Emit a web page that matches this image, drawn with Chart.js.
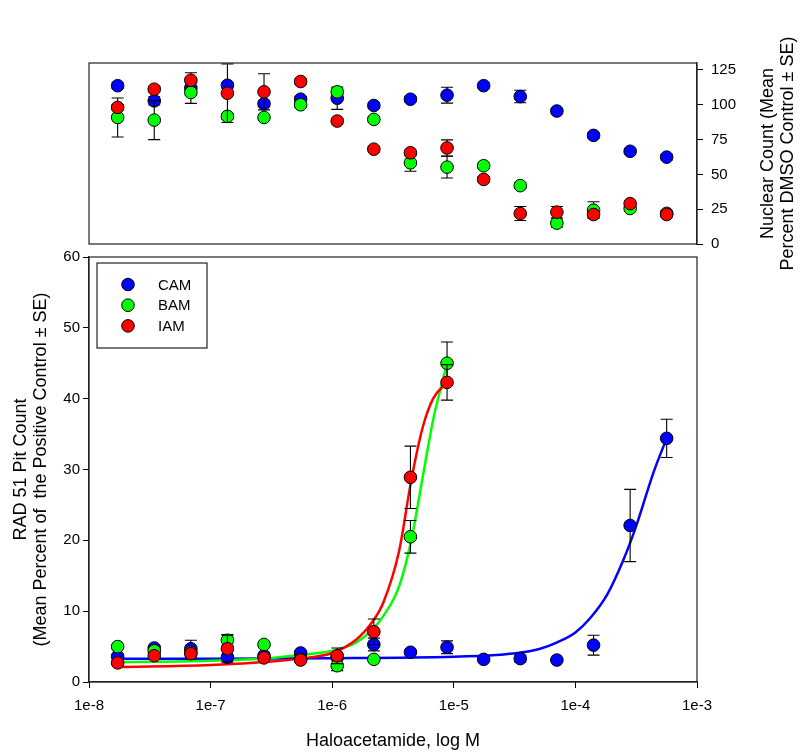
<!DOCTYPE html>
<html><head><meta charset="utf-8">
<script src="https://cdn.jsdelivr.net/npm/chart.js@4"></script>
<style>
html,body{margin:0;padding:0;background:#fff;}
#wrap{position:relative;width:800px;height:753px;}
canvas{position:absolute;left:0;top:0;}
</style>
</head><body>
<div id="wrap"><canvas id="topChart" width="800" height="753"></canvas><canvas id="botChart" width="800" height="753"></canvas></div>
<script>
// ---------- data ----------
const concentrations = [1.72e-8, 3.44e-8, 6.88e-8, 1.375e-7, 2.75e-7, 5.5e-7, 1.1e-6, 2.2e-6, 4.4e-6, 8.8e-6, 1.76e-5, 3.52e-5, 7.04e-5, 1.41e-4, 2.82e-4, 5.63e-4];
const seriesNames = ['CAM', 'BAM', 'IAM'];
const seriesColors = ['#0000FF', '#00FF00', '#FF0000'];
const xTickValues = [1e-8, 1e-7, 1e-6, 1e-5, 1e-4, 1e-3];
const rad51Ticks = [0, 10, 20, 30, 40, 50, 60];
const nuclearTicks = [0, 25, 50, 75, 100, 125];

// RAD51 panel (bottom)
const camRad51   = [3.6, 4.8, 4.7, 3.5, 3.7, 4.1, 3.5, 5.3, 4.2, 4.9, 3.2, 3.3, 3.1, 5.2, 22.1, 34.4];
const camRad51SE = [0.3, 0.3, 1.2, 0.3, 0.3, 0.3, 0.3, 0.9, 0.3, 0.9, 0.2, 0.5, 0.2, 1.4, 5.1, 2.7];
const bamRad51   = [5.0, 4.4, 4.2, 5.9, 5.3, 3.2, 2.3, 3.2, 20.5, 45.0];
const bamRad51SE = [0.3, 0.3, 0.3, 0.8, 0.3, 0.3, 0.7, 0.3, 2.3, 3.0];
const iamRad51   = [2.7, 3.7, 4.0, 4.7, 3.4, 3.1, 3.7, 7.1, 28.9, 42.3];
const iamRad51SE = [0.3, 0.3, 0.3, 1.9, 0.3, 0.3, 1.1, 1.8, 4.4, 2.5];

// fitted curves
const camFitX = [1.72e-8, 1e-7, 1e-6, 1e-5, 2.24e-5, 3.55e-5, 5.13e-5, 7.08e-5, 1e-4, 1.32e-4, 1.82e-4, 2.45e-4, 3.16e-4, 4.37e-4, 5.63e-4];
const camFitY = [3.3, 3.3, 3.35, 3.55, 3.8, 4.15, 4.7, 5.6, 7.0, 9.0, 12.3, 17.0, 22.0, 29.5, 34.4];
const bamFitX = [1.72e-8, 1e-7, 3.16e-7, 5.37e-7, 1e-6, 1.58e-6, 2.14e-6, 2.63e-6, 3.55e-6, 4.47e-6, 5.56e-6, 6.76e-6, 7.94e-6, 8.8e-6];
const bamFitY = [2.8, 3.0, 3.4, 3.8, 4.4, 5.6, 7.4, 9.3, 13.5, 20.0, 29.0, 37.0, 42.0, 45.0];
const iamFitX = [1.72e-8, 1e-7, 3.16e-7, 5.37e-7, 1e-6, 1.58e-6, 2.14e-6, 2.63e-6, 3.55e-6, 4.47e-6, 5.56e-6, 6.76e-6, 8.8e-6];
const iamFitY = [2.1, 2.4, 2.9, 3.3, 4.1, 6.0, 8.5, 11.2, 18.5, 28.5, 36.0, 40.0, 42.3];

// Nuclear count panel (top)
const camNuclear   = [113.7, 102.8, 112.0, 114.0, 100.7, 104.0, 104.7, 99.5, 104.0, 106.9, 113.7, 105.9, 95.5, 78.0, 66.6, 62.4];
const camNuclearSE = [2, 3, 11, 2, 2, 2, 8, 2, 2, 5.7, 2, 4.5, 2, 2, 2, 2];
const bamNuclear   = [90.9, 89.0, 108.8, 91.7, 90.9, 100.0, 109.3, 89.5, 58.3, 55.2, 56.2, 41.9, 15.0, 24.3, 25.5, 22.0];
const bamNuclearSE = [14, 14, 2, 2, 2, 2, 2, 2, 6, 7.8, 2, 2, 3, 6, 2, 2];
const iamNuclear   = [98.1, 111.2, 117.6, 108.3, 109.3, 116.7, 88.3, 68.1, 65.5, 69.0, 46.4, 21.9, 22.9, 21.2, 29.0, 21.2];
const iamNuclearSE = [2, 2, 2, 21, 13, 2, 2, 2, 2, 5.8, 2, 5, 4, 2, 2, 2];

const xTitle = 'Haloacetamide, log M';
const rad51Title = ['RAD 51 Pit Count', '(Mean Percent of  the Positive Control \u00B1 SE)'];
const nuclearTitle = ['Nuclear Count (Mean', 'Percent DMSO Control \u00B1 SE)'];

// ---------- helpers ----------
const FONT = '"Liberation Sans", Arial, sans-serif';
Chart.defaults.font.family = FONT;
Chart.defaults.color = '#000';

function pts(xs, ys) { return ys.map((y, i) => ({x: xs[i], y: y})); }

function scatterSet(i, values, errs, order) {
  return {
    type: 'scatter', label: seriesNames[i], data: pts(concentrations, values), errors: errs,
    backgroundColor: seriesColors[i], borderColor: '#000', borderWidth: 1,
    pointRadius: 6.3, pointHoverRadius: 6.3, order: order, showLine: false
  };
}
function curveSet(i, xs, ys, order) {
  return {
    type: 'line', label: seriesNames[i] + ' fit', isCurve: true, data: pts(xs, ys),
    borderColor: seriesColors[i], borderWidth: 2.5, pointRadius: 0, fill: false,
    cubicInterpolationMode: 'monotone', order: order
  };
}

const errorBarPlugin = {
  id: 'errorBars',
  beforeDatasetDraw(chart, args) {
    const ds = chart.data.datasets[args.index];
    if (!ds.errors) return;
    const ctx = chart.ctx, xs = chart.scales.x, ys = chart.scales.y, a = chart.chartArea;
    ctx.save();
    ctx.beginPath(); ctx.rect(a.left - 1, a.top - 1, a.right - a.left + 2, a.bottom - a.top + 2); ctx.clip();
    ctx.strokeStyle = '#000'; ctx.lineWidth = 1.1;
    ds.data.forEach((p, i) => {
      const e = ds.errors[i];
      if (!e) return;
      const px = xs.getPixelForValue(p.x);
      const yt = ys.getPixelForValue(p.y + e), yb = ys.getPixelForValue(p.y - e);
      ctx.beginPath();
      ctx.moveTo(px, yt); ctx.lineTo(px, yb);
      ctx.moveTo(px - 6, yt); ctx.lineTo(px + 6, yt);
      ctx.moveTo(px - 6, yb); ctx.lineTo(px + 6, yb);
      ctx.stroke();
    });
    ctx.restore();
  }
};

const boxPlugin = {
  id: 'frameBox',
  beforeDatasetsDraw(chart) {
    const a = chart.chartArea, ctx = chart.ctx;
    ctx.save(); ctx.strokeStyle = '#222'; ctx.lineWidth = 1.2;
    ctx.strokeRect(a.left, a.top, a.right - a.left, a.bottom - a.top);
    ctx.restore();
  }
};

const legendPlugin = {
  id: 'boxLegend',
  afterDraw(chart) {
    const a = chart.chartArea, ctx = chart.ctx;
    const x0 = a.left + 8, y0 = a.top + 6, w = 110, h = 85;
    ctx.save();
    ctx.strokeStyle = '#222'; ctx.lineWidth = 1.2;
    ctx.strokeRect(x0, y0, w, h);
    const sets = chart.data.datasets.filter(d => !d.isCurve);
    sets.forEach((d, i) => {
      const cy = y0 + 21.5 + i * 20.7;
      ctx.beginPath(); ctx.arc(x0 + 31, cy, 6.3, 0, Math.PI * 2);
      ctx.fillStyle = d.backgroundColor; ctx.fill();
      ctx.strokeStyle = '#000'; ctx.lineWidth = 1; ctx.stroke();
      ctx.fillStyle = '#000'; ctx.font = '15px ' + FONT; ctx.textAlign = 'left'; ctx.textBaseline = 'middle';
      ctx.fillText(d.label, x0 + 61, cy + 1);
    });
    ctx.restore();
  }
};

const rightTitlePlugin = {
  id: 'rightTitle',
  afterDraw(chart, args, opts) {
    const a = chart.chartArea, ctx = chart.ctx;
    ctx.save();
    ctx.translate(a.right + 71, (a.top + a.bottom) / 2);
    ctx.rotate(-Math.PI / 2);
    ctx.fillStyle = '#000'; ctx.font = '18px ' + FONT; ctx.textAlign = 'center'; ctx.textBaseline = 'middle';
    opts.text.forEach((t, i) => ctx.fillText(t, 0, i * 19.8));
    ctx.restore();
  }
};

const logX = (display) => {
  const cfg = {
    type: 'logarithmic', min: 1e-8, max: 1e-3, display: display,
    afterBuildTicks: s => { s.ticks = xTickValues.map(v => ({value: v})); },
    ticks: { autoSkip: false, maxRotation: 0, padding: 9, font: {size: 15},
      callback: v => Number(v).toExponential(0) },
    grid: { drawOnChartArea: false, drawTicks: true, tickLength: 6, color: '#000' },
    border: { display: true, color: '#222', width: 1.2 },
    title: { display: true, text: xTitle, font: {size: 18}, padding: {top: 0, bottom: 1} }
  };
  if (display) cfg.afterFit = s => { s.height = 71; };
  return cfg;
};

// ---------- bottom chart (RAD51) ----------
new Chart(document.getElementById('botChart'), {
  data: {
    datasets: [
      curveSet(0, camFitX, camFitY, 13),
      curveSet(1, bamFitX, bamFitY, 12),
      curveSet(2, iamFitX, iamFitY, 11),
      scatterSet(0, camRad51, camRad51SE, 3),
      scatterSet(1, bamRad51, bamRad51SE, 2),
      scatterSet(2, iamRad51, iamRad51SE, 1)
    ]
  },
  options: {
    responsive: false, animation: false, devicePixelRatio: 1,
    layout: { padding: { left: 0, right: 103, top: 257, bottom: 0 } },
    plugins: { legend: {display: false}, tooltip: {enabled: false} },
    scales: {
      x: logX(true),
      y: {
        type: 'linear', min: 0, max: 60, position: 'left',
        afterBuildTicks: s => { s.ticks = rad51Ticks.map(v => ({value: v})); },
        ticks: { padding: 3, font: {size: 15} },
        grid: { drawOnChartArea: false, drawTicks: true, tickLength: 6, color: '#000' },
        border: { display: true, color: '#222', width: 1.2 },
        title: { display: true, text: rad51Title, font: {size: 18, lineHeight: 1.1}, padding: {top: 11, bottom: 0} },
        afterFit: s => { s.width = 89; }
      }
    }
  },
  plugins: [errorBarPlugin, boxPlugin, legendPlugin]
});

// ---------- top chart (Nuclear count) ----------
new Chart(document.getElementById('topChart'), {
  data: {
    datasets: [
      scatterSet(0, camNuclear, camNuclearSE, 3),
      scatterSet(1, bamNuclear, bamNuclearSE, 2),
      scatterSet(2, iamNuclear, iamNuclearSE, 1)
    ]
  },
  options: {
    responsive: false, animation: false, devicePixelRatio: 1,
    layout: { padding: { left: 89, right: 0, top: 63, bottom: 509 } },
    plugins: { legend: {display: false}, tooltip: {enabled: false}, rightTitle: { text: nuclearTitle } },
    scales: {
      x: logX(false),
      y: {
        type: 'linear', min: 0, max: 130, position: 'right',
        afterBuildTicks: s => { s.ticks = nuclearTicks.map(v => ({value: v})); },
        ticks: { padding: 8, font: {size: 15} },
        grid: { drawOnChartArea: false, drawTicks: true, tickLength: 6, color: '#000' },
        border: { display: true, color: '#222', width: 1.2 },
        afterFit: s => { s.width = 103; }
      }
    }
  },
  plugins: [errorBarPlugin, boxPlugin, rightTitlePlugin]
});
</script>
</body></html>
